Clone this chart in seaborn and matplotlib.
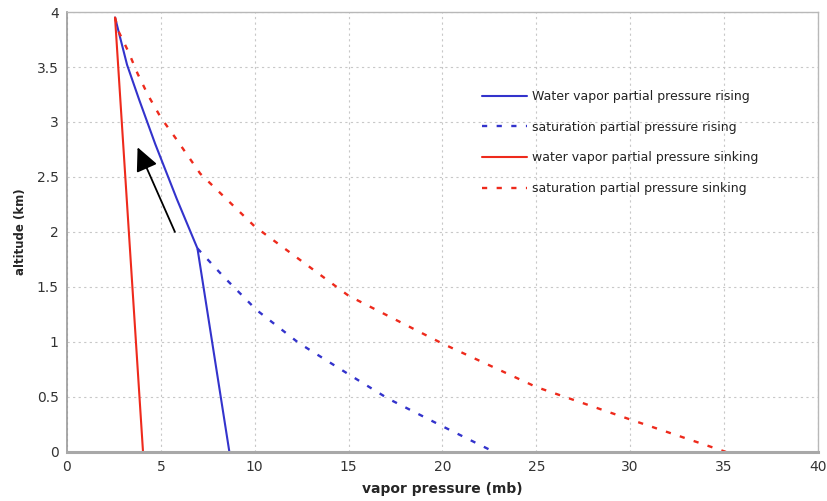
import matplotlib
matplotlib.use("Agg")
import matplotlib.pyplot as plt
import seaborn as sns
import pandas as pd

# values (vapor pressure in mb, altitude in km)
rise_vapor_p = [8.65, 6.95, 5.85, 4.7, 3.85, 3.2, 2.56]
rise_vapor_z = [0.0, 1.85, 2.3, 2.8, 3.2, 3.52, 3.95]

rise_sat_p = [6.95, 8.36, 10.1, 12.35, 15.0, 17.1, 20.0, 22.75]
rise_sat_z = [1.85, 1.59, 1.29, 0.99, 0.706, 0.485, 0.233, 0.0]

sink_vapor_p = [4.05, 2.56]
sink_vapor_z = [0.0, 3.95]

sink_sat_p = [2.56, 2.73, 3.27, 3.76, 4.33, 5.0, 5.8, 7.1, 10.0, 15.0, 20.0, 25.0, 30.0, 35.1]
sink_sat_z = [3.95, 3.83, 3.64, 3.44, 3.24, 3.04, 2.85, 2.53, 2.05, 1.42, 0.985, 0.59, 0.295, 0.0]

labels = ["Water vapor partial pressure rising",
          "saturation partial pressure rising",
          "water vapor partial pressure sinking",
          "saturation partial pressure sinking"]

arrow_tail = (5.75, 2.0)
arrow_head = (3.76, 2.77)

BLUE = "#3333cc"
RED = "#ee2a1c"
DOTS = (0, (2.2, 4.0))

sns.set_style("white")
plt.rcParams["font.family"] = ["DejaVu Sans"]

fig = plt.figure(figsize=(8.27, 5.01), dpi=100)
ax = fig.add_axes([0.081, 0.098, 0.908, 0.878])

series = [
    (rise_vapor_p, rise_vapor_z, BLUE, "-", 1.5),
    (rise_sat_p, rise_sat_z, BLUE, DOTS, 1.7),
    (sink_vapor_p, sink_vapor_z, RED, "-", 1.5),
    (sink_sat_p, sink_sat_z, RED, DOTS, 1.7),
]
for (p, z, col, ls, lw), lab in zip(series, labels):
    df = pd.DataFrame({"p": p, "z": z})
    sns.lineplot(data=df, x="p", y="z", sort=False, estimator=None, ax=ax,
                 color=col, linestyle=ls, linewidth=lw, label=lab)

ax.annotate("", xy=arrow_head, xytext=arrow_tail,
            arrowprops=dict(arrowstyle="-|>,head_length=0.8,head_width=0.38",
                            mutation_scale=18, color="black", lw=1.3,
                            shrinkA=0, shrinkB=0))

ax.set_xlim(0, 40)
ax.set_ylim(0, 4)
ax.set_xticks(range(0, 41, 5))
ax.set_yticks([0, 0.5, 1, 1.5, 2, 2.5, 3, 3.5, 4])
ax.set_yticklabels(["0", "0.5", "1", "1.5", "2", "2.5", "3", "3.5", "4"])

ax.grid(True, color="#c8c8c8", linestyle=(0, (2, 3)), linewidth=0.8)
ax.tick_params(axis="both", direction="out", length=3, width=0.8,
               color="#999999", labelcolor="#333333", labelsize=10, pad=3)

ax.spines["left"].set_color("#999999")
ax.spines["left"].set_linewidth(1.2)
ax.spines["bottom"].set_color("#a8a8a8")
ax.spines["bottom"].set_linewidth(2.2)
for s in ("top", "right"):
    ax.spines[s].set_color("#b8b8b8")
    ax.spines[s].set_linewidth(1.0)

ax.set_xlabel("vapor pressure (mb)", fontsize=10, fontweight="bold")
ax.set_ylabel("altitude (km)", fontsize=8.5, fontweight="bold")
ax.xaxis.set_label_coords(0.5, -0.068)
ax.yaxis.set_label_coords(-0.053, 0.5)

leg = ax.legend(loc="upper left", bbox_to_anchor=(0.553, 0.823), frameon=False,
                fontsize=9, handlelength=3.6, handletextpad=0.4,
                labelspacing=1.42, borderaxespad=0, borderpad=0)
for t in leg.get_texts():
    t.set_color("#222222")

fig.savefig("out.png", dpi=100)
